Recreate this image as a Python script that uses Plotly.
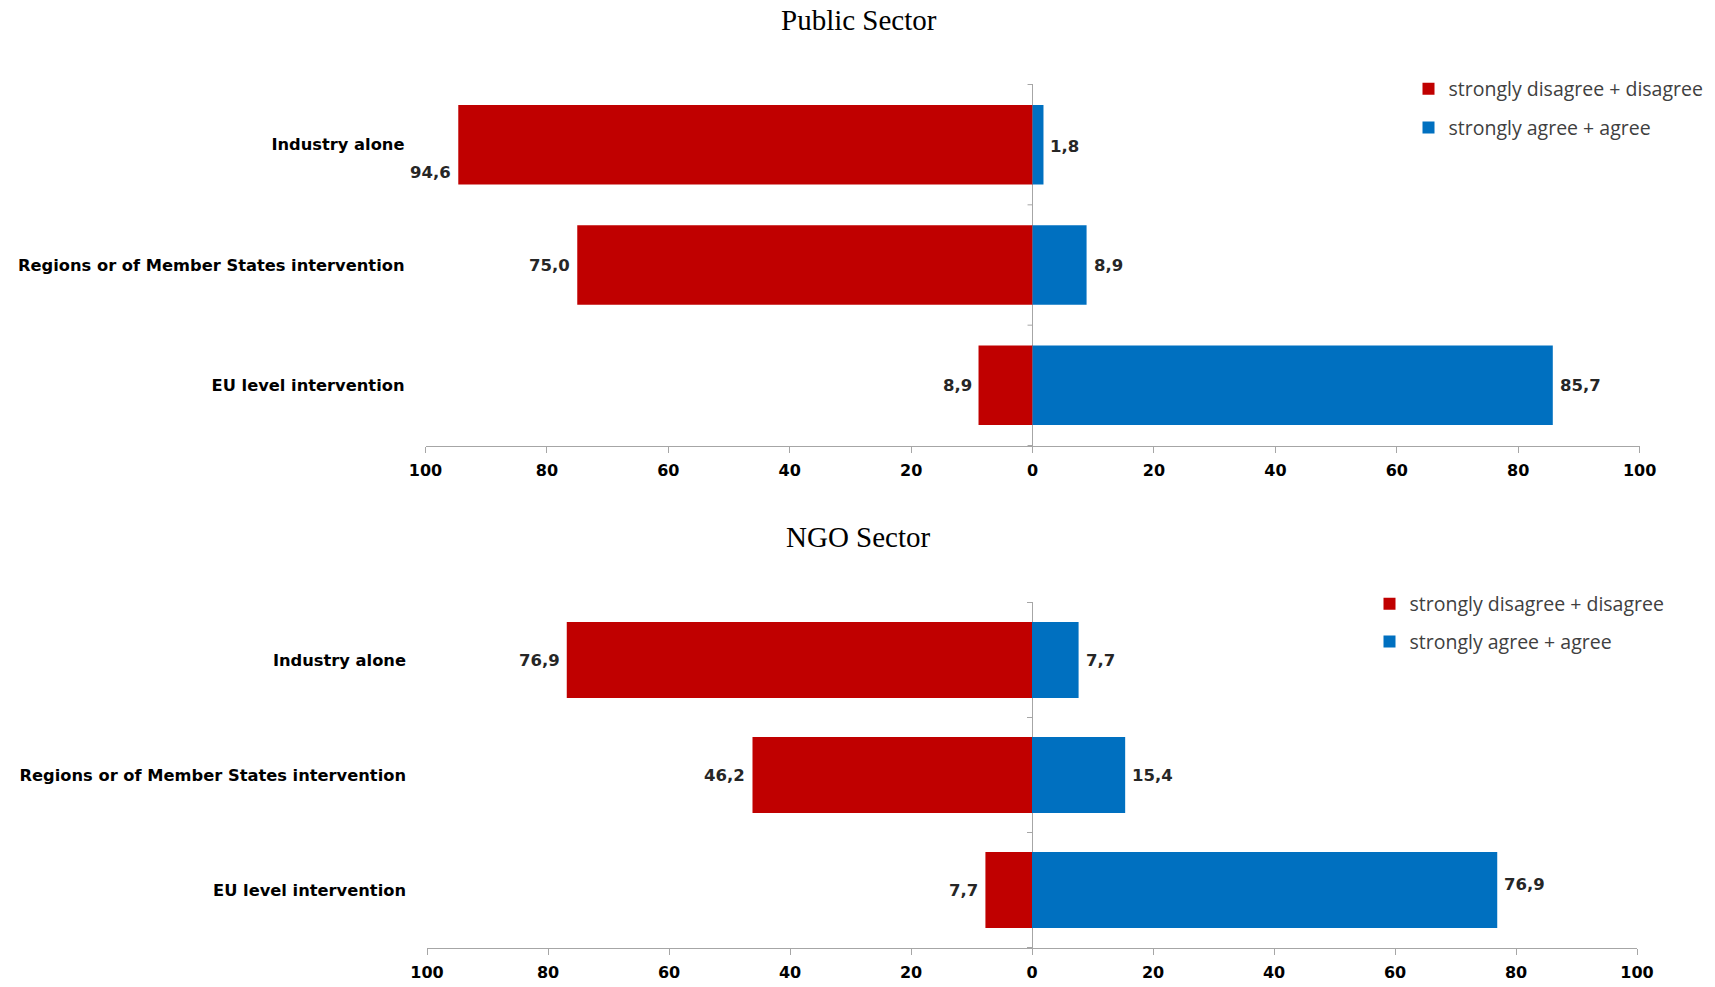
import plotly.graph_objects as go

categories = ["Industry alone", "Regions or of Member States intervention", "EU level intervention"]
public_disagree = [94.6, 75.0, 8.9]
public_agree = [1.8, 8.9, 85.7]
ngo_disagree = [76.9, 46.2, 7.7]
ngo_agree = [7.7, 15.4, 76.9]
tick_vals = [-100, -80, -60, -40, -20, 0, 20, 40, 60, 80, 100]
tick_text = ["100", "80", "60", "40", "20", "0", "20", "40", "60", "80", "100"]
series_names = ["strongly disagree + disagree", "strongly agree + agree"]
panel_titles = ["Public Sector", "NGO Sector"]

RED = "#C00000"
BLUE = "#0070C0"
GREY = "#A6A6A6"
W, H = 1715, 987

# label vertical nudges (pixels) to mimic the original label placement
left_label_shift = [[-28, 0, 0], [0, 0, 0]]
right_label_shift = [[-2, 0, 0], [0, 0, 6]]


def fmt(v):
    return f"{v:.1f}".replace(".", ",")


fig = go.Figure()

panels = [
    (public_disagree, public_agree, "x", "y", "legend"),
    (ngo_disagree, ngo_agree, "x2", "y2", "legend2"),
]
for i, (dis, agr, xa, ya, lg) in enumerate(panels):
    fig.add_trace(go.Bar(y=categories, x=[-v for v in dis], orientation="h",
                         marker=dict(color=RED, line=dict(width=0)), name=series_names[0],
                         xaxis=xa, yaxis=ya, legend=lg, legendgroup=f"d{i}"))
    fig.add_trace(go.Bar(y=categories, x=agr, orientation="h",
                         marker=dict(color=BLUE, line=dict(width=0)), name=series_names[1],
                         xaxis=xa, yaxis=ya, legend=lg, legendgroup=f"a{i}"))
    # data labels
    for j, c in enumerate(categories):
        fig.add_annotation(x=-dis[j], y=c, xref=xa, yref=ya, text=fmt(dis[j]),
                           showarrow=False, xanchor="right", xshift=-5,
                           yshift=left_label_shift[i][j],
                           font=dict(family="DejaVu Sans", size=16.5, color="#262626", weight="bold"))
        fig.add_annotation(x=agr[j], y=c, xref=xa, yref=ya, text=fmt(agr[j]),
                           showarrow=False, xanchor="left", xshift=5,
                           yshift=right_label_shift[i][j],
                           font=dict(family="DejaVu Sans", size=16.5, color="#262626", weight="bold"))
    # small category separator ticks on zero line
    for k in range(len(categories) + 1):
        fig.add_shape(type="line", xref=xa, yref=ya, xsizemode="pixel", xanchor=0,
                      x0=-5, x1=0, y0=k - 0.5, y1=k - 0.5,
                      line=dict(color=GREY, width=1))

xaxis_common = dict(range=[-100, 100], tickvals=tick_vals, ticktext=tick_text,
                    showgrid=False, zeroline=True, zerolinecolor=GREY, zerolinewidth=1,
                    showline=True, linecolor=GREY, linewidth=1,
                    ticks="outside", ticklen=6, tickcolor=GREY, tickwidth=1,
                    ticklabelstandoff=4, automargin=False,
                    tickfont=dict(family="DejaVu Sans", size=16, color="black", weight="bold"),
                    fixedrange=True)
yaxis_common = dict(autorange="reversed", showgrid=False, zeroline=False, showline=False,
                    ticks="", ticklabelstandoff=20, automargin=False, fixedrange=True,
                    tickfont=dict(family="DejaVu Sans", size=16.3, color="black", weight="bold"))

fig.update_layout(
    width=W, height=H,
    margin=dict(l=0, r=0, t=0, b=0, autoexpand=False),
    paper_bgcolor="white", plot_bgcolor="white",
    barmode="relative", bargap=0.34,
    xaxis=dict(domain=[425.5 / W, 1639.6 / W], anchor="y", **xaxis_common),
    yaxis=dict(domain=[1 - 446 / H, 1 - 84 / H], anchor="x", **yaxis_common),
    xaxis2=dict(domain=[427 / W, 1637 / W], anchor="y2", **xaxis_common),
    yaxis2=dict(domain=[1 - 948 / H, 1 - 602 / H], anchor="x2", **yaxis_common),
    legend=dict(x=1408.5 / W, y=1 - 69.5 / H, xanchor="left", yanchor="top",
                font=dict(family="Open Sans", size=19.5, color="#404040"),
                tracegroupgap=10.5, bgcolor="rgba(0,0,0,0)"),
    legend2=dict(x=1369.5 / W, y=1 - 584.5 / H, xanchor="left", yanchor="top",
                 font=dict(family="Open Sans", size=19.5, color="#404040"),
                 tracegroupgap=9.5, bgcolor="rgba(0,0,0,0)"),
    showlegend=True,
)

title_y = [20, 537]
for t, yp in zip(panel_titles, title_y):
    fig.add_annotation(x=859 / W, y=1 - yp / H, xref="paper", yref="paper", text=t,
                       showarrow=False, xanchor="center", yanchor="middle",
                       font=dict(family="Liberation Serif", size=29, color="black"))

fig.write_html("out.html", config={"displayModeBar": False},
               post_script="document.body.style.margin='0px';document.body.style.overflow='hidden';")
